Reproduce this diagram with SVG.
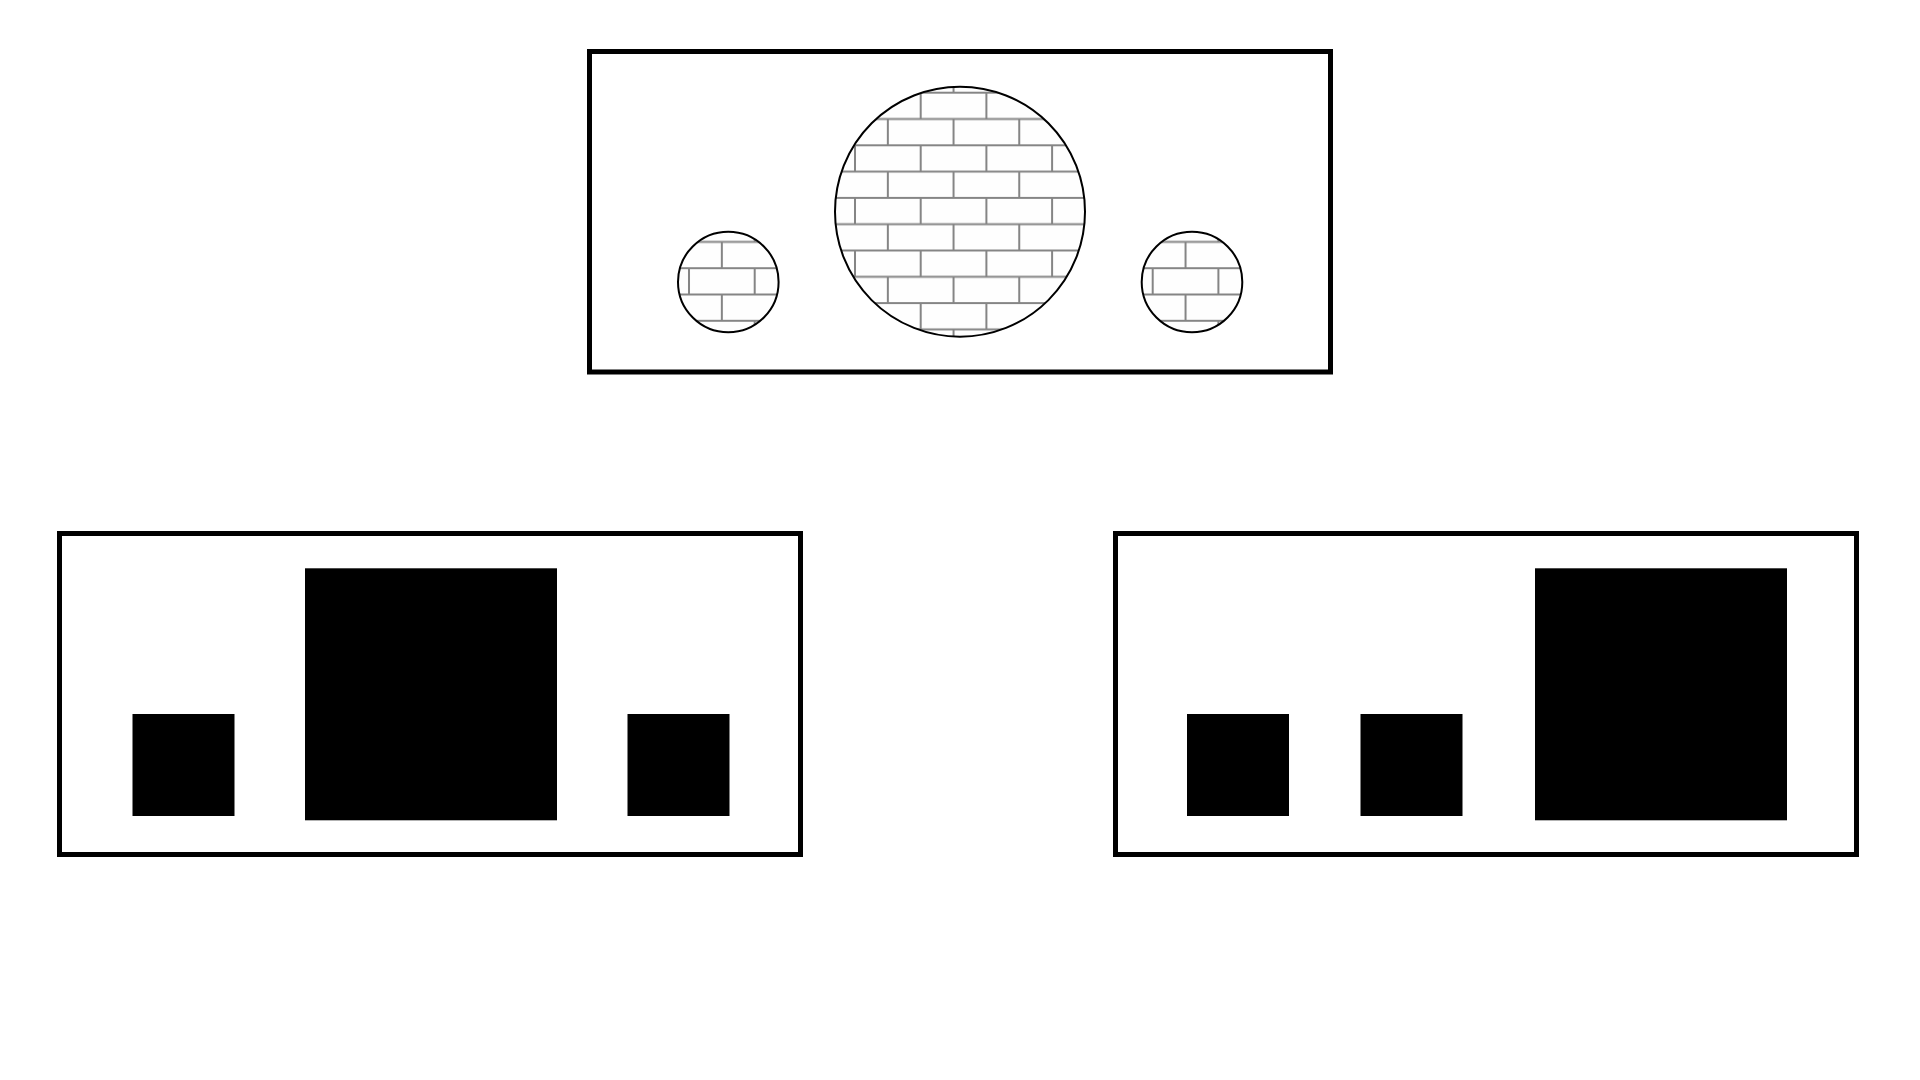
<svg xmlns="http://www.w3.org/2000/svg" width="1920" height="1080" viewBox="0 0 1920 1080">
  <style>
    .frame { fill: #ffffff; stroke: #000000; stroke-width: 5; }
    .block { fill: #000000; }
    .ball { fill: url(#bricks); stroke: #000000; stroke-width: 2; }
    .mortar { stroke: #858585; stroke-width: 2; fill: none; }
  </style>
  <defs>
    <pattern id="bricks" patternUnits="userSpaceOnUse" x="-39.3" y="-13.8" width="131.4" height="52.6">
      <rect x="0" y="0" width="131.4" height="52.6" fill="#fefefe"/>
      <path class="mortar" d="M0 0H131.4M0 26.3H131.4M0 52.6H131.4M0 0V26.3M65.7 0V26.3M131.4 0V26.3M32.85 26.3V52.6M98.55 26.3V52.6"/>
    </pattern>
  </defs>
  <rect x="0" y="0" width="1920" height="1080" fill="#ffffff"/>

  <g id="top-panel">
    <rect class="frame" x="589.5" y="51.5" width="741" height="320.5"/>
    <g id="top-small-left" transform="translate(728.3 282)">
      <circle class="ball" cx="0" cy="0" r="50.3"/>
    </g>
    <g id="top-big" transform="translate(960 211.7)">
      <circle class="ball" cx="0" cy="0" r="125"/>
    </g>
    <g id="top-small-right" transform="translate(1192 282)">
      <circle class="ball" cx="0" cy="0" r="50.3"/>
    </g>
  </g>

  <g id="bottom-left-panel">
    <rect class="frame" x="59.5" y="533.5" width="741" height="321"/>
    <rect id="bl-small-left" class="block" x="132.5" y="714" width="102" height="102"/>
    <rect id="bl-big" class="block" x="305" y="568.3" width="252" height="252"/>
    <rect id="bl-small-right" class="block" x="627.5" y="714" width="102" height="102"/>
  </g>

  <g id="bottom-right-panel">
    <rect class="frame" x="1115.5" y="533.5" width="741" height="321"/>
    <rect id="br-small-1" class="block" x="1187" y="714" width="102" height="102"/>
    <rect id="br-small-2" class="block" x="1360.5" y="714" width="102" height="102"/>
    <rect id="br-big" class="block" x="1535" y="568.3" width="252" height="252"/>
  </g>

  <g id="connectors"></g>
</svg>
